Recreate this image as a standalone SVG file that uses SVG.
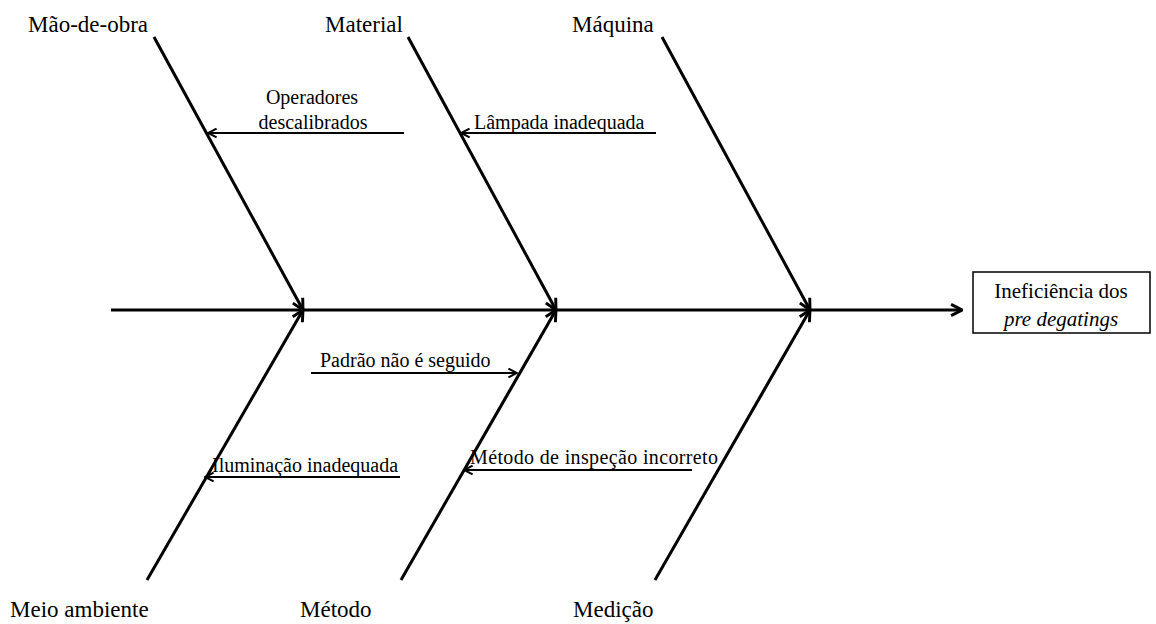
<svg xmlns="http://www.w3.org/2000/svg" width="1156" height="624" viewBox="0 0 1156 624">
<style>
.cat{font-family:"Liberation Serif","Times New Roman",serif;font-size:23px;fill:#000}
.cause{font-family:"Liberation Serif","Times New Roman",serif;font-size:20px;fill:#000}
.eff{font-family:"Liberation Serif","Times New Roman",serif;font-size:21px;fill:#000}
.bone{stroke:#000;stroke-width:3;fill:none}
.sub{stroke:#000;stroke-width:2;fill:none}
</style>
<defs>
<marker id="big" viewBox="0 0 10 10" refX="9.3" refY="5" markerWidth="14" markerHeight="14" markerUnits="userSpaceOnUse" orient="auto">
<path d="M1.5,1 L9.3,5 L1.5,9" fill="none" stroke="#000" stroke-width="2.1"/>
</marker>
<marker id="small" viewBox="0 0 10 10" refX="9.3" refY="5" markerWidth="11" markerHeight="11" markerUnits="userSpaceOnUse" orient="auto">
<path d="M1.5,1 L9.3,5 L1.5,9" fill="none" stroke="#000" stroke-width="1.8"/>
</marker>
</defs>
<g id="connectors">
<line class="bone" x1="111" y1="310" x2="962" y2="310" marker-end="url(#big)"/>
<line class="bone" x1="154" y1="37" x2="303" y2="310" marker-end="url(#big)"/>
<line class="bone" x1="408" y1="37" x2="556" y2="310" marker-end="url(#big)"/>
<line class="bone" x1="662" y1="37" x2="810" y2="310" marker-end="url(#big)"/>
<line class="bone" x1="147" y1="580" x2="303" y2="310" marker-end="url(#big)"/>
<line class="bone" x1="401" y1="580" x2="556" y2="310" marker-end="url(#big)"/>
<line class="bone" x1="655" y1="580" x2="810" y2="310" marker-end="url(#big)"/>
<line class="sub" x1="404" y1="133" x2="208" y2="133" marker-end="url(#small)"/>
<line class="sub" x1="656" y1="133" x2="461" y2="133" marker-end="url(#small)"/>
<line class="sub" x1="311" y1="373" x2="517" y2="373" marker-end="url(#small)"/>
<line class="sub" x1="400" y1="477" x2="205" y2="477" marker-end="url(#small)"/>
<line class="sub" x1="692" y1="470" x2="464" y2="470" marker-end="url(#small)"/>
</g>
<g id="cat-maodeobra"><text class="cat" x="28" y="32">Mão-de-obra</text></g>
<g id="cat-material"><text class="cat" x="325" y="32">Material</text></g>
<g id="cat-maquina"><text class="cat" x="572" y="32">Máquina</text></g>
<g id="cat-meio"><text class="cat" x="10" y="617">Meio ambiente</text></g>
<g id="cat-metodo"><text class="cat" x="300" y="617">Método</text></g>
<g id="cat-medicao"><text class="cat" x="573" y="617">Medição</text></g>
<g id="cause-operadores">
<text class="cause" x="312" y="104" text-anchor="middle">Operadores</text>
<text class="cause" x="313" y="129" text-anchor="middle">descalibrados</text>
</g>
<g id="cause-lampada"><text class="cause" x="474" y="129">Lâmpada inadequada</text></g>
<g id="cause-padrao"><text class="cause" x="320" y="367">Padrão não é seguido</text></g>
<g id="cause-iluminacao"><text class="cause" x="212" y="472">Iluminação inadequada</text></g>
<g id="cause-inspecao"><text class="cause" x="470" y="464" textLength="248" lengthAdjust="spacing">Método de inspeção incorreto</text></g>
<g id="effect">
<rect x="973" y="272" width="177" height="61" fill="#fff" stroke="#000" stroke-width="1.5"/>
<text class="eff" x="1061" y="298" text-anchor="middle">Ineficiência dos</text>
<text class="eff" x="1061" y="326" text-anchor="middle" font-style="italic">pre degatings</text>
</g>
</svg>
